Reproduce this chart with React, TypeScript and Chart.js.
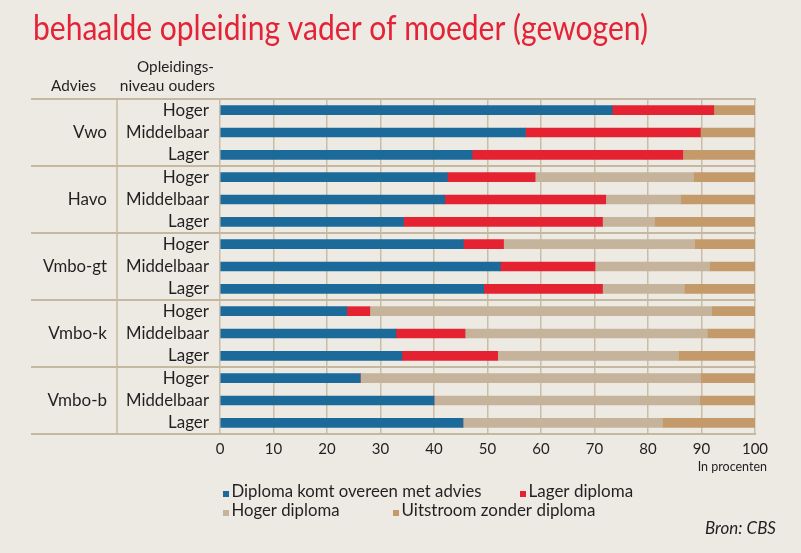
import React, { useEffect, useRef } from 'react';
import { Chart, registerables } from 'chart.js';

Chart.register(...registerables);

// ---- data ----
const groups = ['Vwo', 'Havo', 'Vmbo-gt', 'Vmbo-k', 'Vmbo-b'];
const levels = ['Hoger', 'Middelbaar', 'Lager'];
const rowLabels = groups.flatMap(() => levels);

const diplomaAdvies = [73.3, 57.1, 47.1, 42.5, 42.0, 34.3, 45.5, 52.4, 49.3, 23.7, 32.9, 34.0, 26.2, 40.0, 45.4];
const lagerDiploma = [19.0, 32.7, 39.4, 16.4, 30.1, 37.2, 7.5, 17.7, 22.2, 4.3, 12.9, 17.9, 0, 0, 0];
const hogerDiploma = [0, 0, 0, 29.6, 14.0, 9.7, 35.7, 21.4, 15.3, 63.9, 45.3, 33.8, 63.6, 49.7, 37.3];
const uitstroom = [7.7, 10.2, 13.5, 11.5, 13.9, 18.8, 11.3, 8.5, 13.2, 8.1, 8.9, 14.3, 10.2, 10.3, 17.3];

const seriesNames = ['Diploma komt overeen met advies', 'Lager diploma', 'Hoger diploma', 'Uitstroom zonder diploma'];
const seriesColors = ['#1B6A9A', '#E52231', '#C5B49B', '#C49A6B'];

const title = 'behaalde opleiding vader of moeder (gewogen)';
const headerAdvies = 'Advies';
const headerNiveau = ['Opleidings-', 'niveau ouders'];
const axisUnit = 'In procenten';
const source = 'Bron: CBS';

// ---- style ----
const BG = '#EDEAE4';
const GRID = '#CABDA8';
const SEP = '#C6B8A0';
const TEXT = '#231F20';
const TITLE = '#E42337';
const FONT = 'Lato, "Open Sans", sans-serif';

function txt(ctx: CanvasRenderingContext2D, s: string, x: number, y: number, font: string, align: CanvasTextAlign, maxW?: number, color = TEXT, baseline: CanvasTextBaseline = 'middle') {
  ctx.font = font;
  ctx.fillStyle = color;
  ctx.textAlign = align;
  ctx.textBaseline = baseline;
  if (maxW) ctx.fillText(s, x, y, maxW);
  else ctx.fillText(s, x, y);
}

const overlay = {
  id: 'overlay',
  beforeDatasetsDraw(chart: any) {
    const { ctx, chartArea, scales } = chart;
    const y = scales.y;
    const top = chartArea.top;
    const bottom = chartArea.bottom;
    ctx.save();
    ctx.strokeStyle = SEP;
    ctx.lineWidth = 2;
    const ys = [top];
    for (let g = 1; g < groups.length; g++) {
      const i = g * levels.length;
      ys.push((y.getPixelForValue(i - 1) + y.getPixelForValue(i)) / 2);
    }
    ys.push(bottom);
    ys.forEach((yy) => {
      ctx.beginPath();
      ctx.moveTo(31, yy);
      ctx.lineTo(chartArea.right + 1, yy);
      ctx.stroke();
    });
    ctx.lineWidth = 1.5;
    ctx.beginPath();
    ctx.moveTo(117, top);
    ctx.lineTo(117, bottom);
    ctx.stroke();
    ctx.restore();
  },
  afterDraw(chart: any) {
    const { ctx, scales } = chart;
    const y = scales.y;
    ctx.save();
    // title
    txt(ctx, title, 33, 40, `35px ${FONT}`, 'left', 615, TITLE, 'alphabetic');
    // headers
    txt(ctx, headerNiveau[0], 214, 67, `15.5px ${FONT}`, 'right', 77);
    txt(ctx, headerNiveau[1], 215, 86, `15.5px ${FONT}`, 'right', 97);
    txt(ctx, headerAdvies, 96, 86, `15.5px ${FONT}`, 'right', 45);
    // row labels
    (chart.data.labels as string[]).forEach((l, i) => {
      txt(ctx, l, 209, y.getPixelForValue(i), `17px ${FONT}`, 'right', 83);
    });
    // group labels
    groups.forEach((g, gi) => {
      const mid = y.getPixelForValue(gi * levels.length + 1);
      txt(ctx, g, 107, mid, `17px ${FONT}`, 'right', 64);
    });
    // unit
    txt(ctx, axisUnit, 767, 467, `12.5px ${FONT}`, 'right', 72);
    // legend
    const pos = [
      { x: 223, y: 492, w: 250 },
      { x: 520, y: 492, w: 105 },
      { x: 223, y: 511, w: 108 },
      { x: 393, y: 511, w: 194 },
    ];
    chart.data.datasets.forEach((ds: any, i: number) => {
      const p = pos[i];
      ctx.fillStyle = ds.backgroundColor;
      ctx.fillRect(p.x, p.y - 1, 6, 6);
      txt(ctx, ds.label, p.x + 8.5, p.y, `17px ${FONT}`, 'left', p.w);
    });
    // source
    txt(ctx, source, 776, 529, `italic 17px ${FONT}`, 'right', 71);
    ctx.restore();
  },
};

export default function App() {
  const ref = useRef<HTMLCanvasElement | null>(null);
  useEffect(() => {
    if (!ref.current) return;
    const series = [diplomaAdvies, lagerDiploma, hogerDiploma, uitstroom];
    const chart = new Chart(ref.current, {
      type: 'bar',
      data: {
        labels: rowLabels,
        datasets: series.map((d, i) => ({
          label: seriesNames[i],
          data: d,
          backgroundColor: seriesColors[i],
          borderWidth: 0,
          barThickness: 9,
        })),
      },
      options: {
        indexAxis: 'y',
        animation: false,
        responsive: false,
        maintainAspectRatio: false,
        devicePixelRatio: 1,
        layout: { padding: { left: 220, right: 46, top: 99, bottom: 0 } },
        plugins: { legend: { display: false }, tooltip: { enabled: false } },
        scales: {
          x: {
            stacked: true,
            min: 0,
            max: 100,
            ticks: { stepSize: 10, color: TEXT, font: { family: FONT, size: 15 }, padding: 6, maxRotation: 0 },
            grid: { color: GRID, lineWidth: 1.5, drawTicks: false },
            border: { display: false },
            afterFit: (s: any) => { s.height = 119; },
          },
          y: {
            stacked: true,
            display: false,
          },
        },
      },
      plugins: [overlay],
    });
    return () => chart.destroy();
  }, []);
  return (
    <div style={{ position: 'fixed', left: 0, top: 0, width: 801, height: 553, background: BG }}>
      <canvas ref={ref} width={801} height={553} style={{ display: 'block', width: 801, height: 553 }} />
    </div>
  );
}
